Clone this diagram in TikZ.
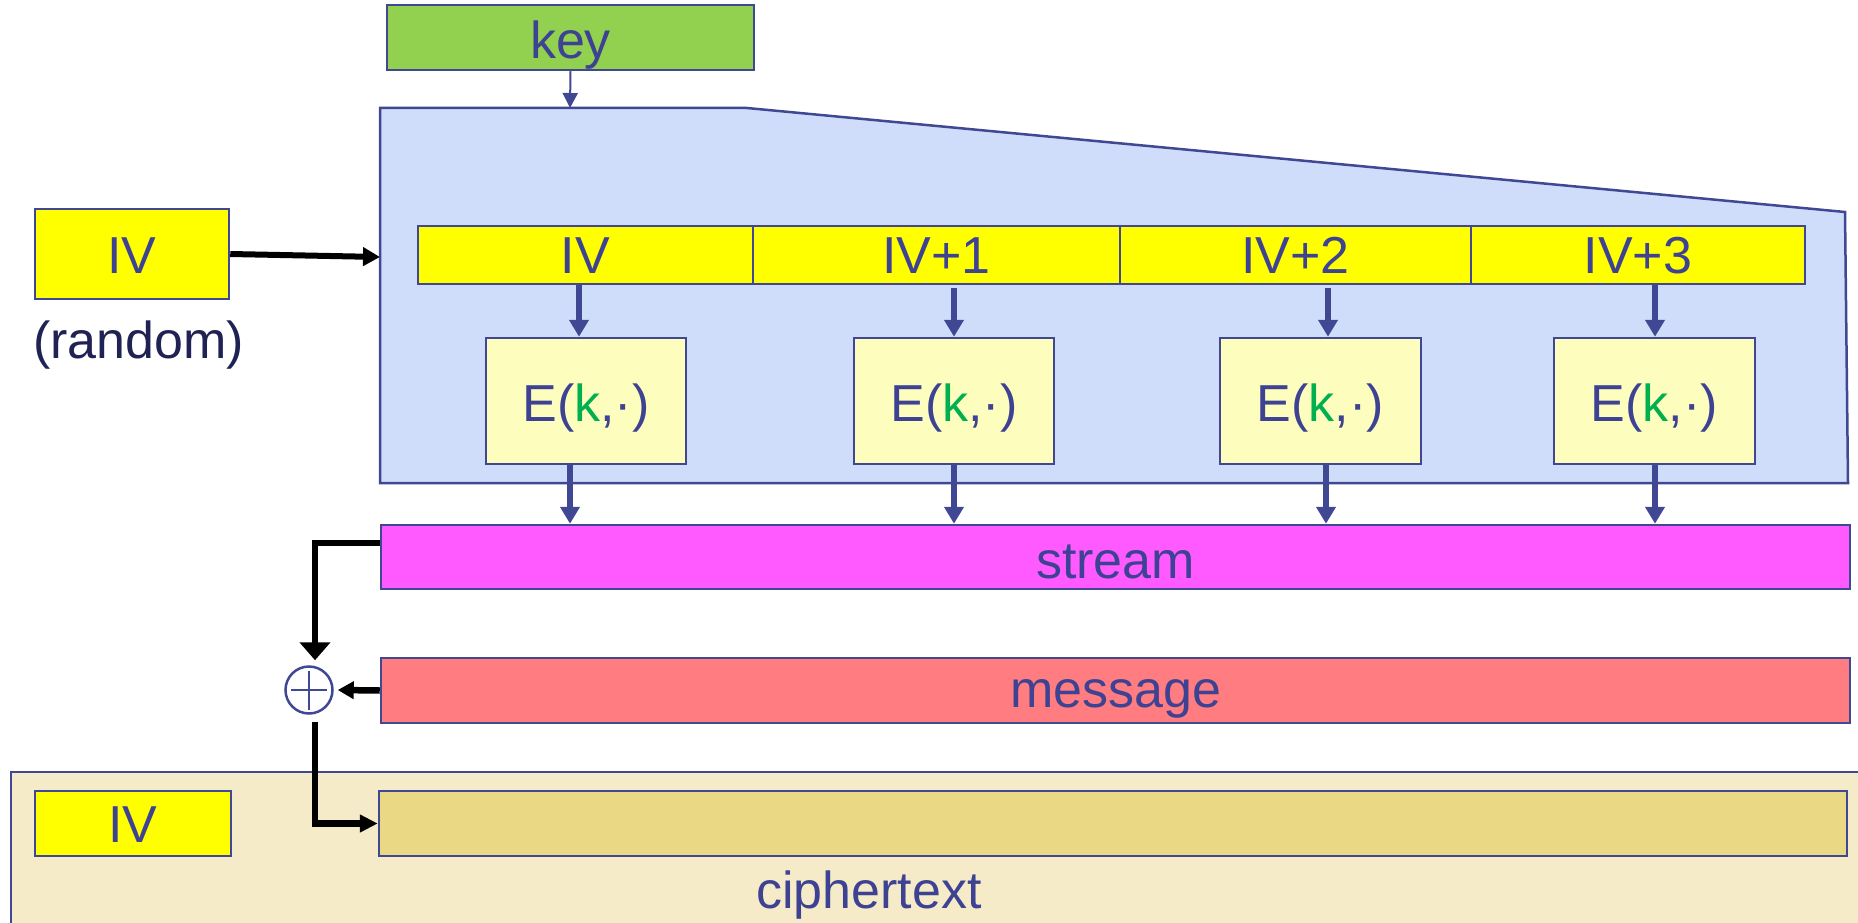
\documentclass[tikz,border=0pt]{standalone}
\usepackage{fontspec}
\setmainfont{Liberation Sans}
\usetikzlibrary{arrows.meta}

\definecolor{outl}{RGB}{64,72,148}
\definecolor{txt}{RGB}{62,66,146}
\definecolor{navy}{RGB}{32,34,84}
\definecolor{keyfill}{RGB}{146,208,80}
\definecolor{ivfill}{RGB}{255,255,0}
\definecolor{encfill}{RGB}{207,220,250}
\definecolor{efill}{RGB}{253,253,190}
\definecolor{streamfill}{RGB}{255,90,255}
\definecolor{msgfill}{RGB}{255,124,128}
\definecolor{cbarfill}{RGB}{235,216,133}
\definecolor{cregfill}{RGB}{246,235,200}
\definecolor{kgreen}{RGB}{0,176,80}

\tikzset{
  box/.style={draw=outl, line width=2.5pt, inner sep=0pt, text=txt, text depth=0pt},
  seg/.style={box, fill=ivfill, line width=2pt, minimum height=58, text height=36pt},
  ebox/.style={box, fill=efill, minimum width=200, minimum height=126, text height=40pt},
  barrow/.style={draw=outl, line width=6pt, -{Triangle[width=19pt,length=17pt]}},
  karrow/.style={draw=black, line width=6.5pt},
}
\newcommand{\Ek}{E(\textcolor{kgreen}{k},·)}

\begin{document}
\begin{tikzpicture}[x=1pt, y=-1pt, font=\fontsize{52}{60}\selectfont]
\useasboundingbox (0,0) rectangle (1858,923);
\clip (0,0) rectangle (1858,923);

% ciphertext region in the background
\draw[outl, line width=2.5pt, fill=cregfill] (11,772) rectangle (1875,940);
\node[text=txt, anchor=base, inner sep=0pt] (clabel) at (869,908) {ciphertext};

% encryption block
\draw[outl, line width=2.5pt, fill=encfill]
  (380,108) -- (747,108) -- (1845,212) -- (1848,483) -- (380,483) -- cycle;
\coordinate (enctop) at (570,108);
\coordinate (encin) at (380,257);

% key and IV inputs
\node[box, fill=keyfill, minimum width=367, minimum height=65, text height=43pt]
  (key) at (570.5,37.5) {key};
\node[box, fill=ivfill, minimum width=194, minimum height=90, text height=38pt]
  (ivsrc) at (132,254) {IV};
\node[text=navy, anchor=base west, inner sep=0pt] (rnd) at (33,358) {(random)};

% counter row
\node[seg, minimum width=335] (r1) at (585.5,255) {IV};
\node[seg, minimum width=367] (r2) at (936.5,255) {IV+1};
\node[seg, minimum width=351] (r3) at (1295.5,255) {IV+2};
\node[seg, minimum width=334] (r4) at (1638,255) {IV+3};

% block cipher applications
\node[ebox] (e1) at (586,401) {\Ek};
\node[ebox] (e2) at (954,401) {\Ek};
\node[ebox, minimum width=201] (e3) at (1320.5,401) {\Ek};
\node[ebox, minimum width=201] (e4) at (1654.5,401) {\Ek};

% stream, message, ciphertext bars
\node[box, fill=streamfill, minimum width=1469, minimum height=64, text height=42pt]
  (stream) at (1115.5,557) {stream};
\node[box, fill=msgfill, minimum width=1469, minimum height=65, text height=33pt]
  (msg) at (1115.5,690.5) {message};
\node[box, fill=ivfill, minimum width=196, minimum height=65, text height=37pt]
  (civ) at (133,823.5) {IV};
\node[box, fill=cbarfill, minimum width=1468, minimum height=65]
  (cbar) at (1113,823.5) {};

% xor
\node[draw=outl, line width=2.5pt, circle, minimum size=47, inner sep=0pt, fill=white]
  (xor) at (309,690) {};
\draw[outl, line width=2.5pt] ([xshift=-18pt]xor.center) -- ([xshift=18pt]xor.center);
\draw[outl, line width=2.5pt] ([yshift=-20pt]xor.center) -- ([yshift=19pt]xor.center);

% key and IV feeding the block
\draw[draw=outl, line width=2pt, -{Triangle[width=15pt,length=15pt]}] (key.south) -- (enctop);
\draw[karrow, line width=6pt, -{Triangle[width=18pt,length=17pt]}] (ivsrc.east) -- (encin);

% counters into the cipher
\draw[barrow] (579,0 |- r1.south) -- (579,0 |- e1.north);
\draw[barrow] (954,288) -- (954,0 |- e2.north);
\draw[barrow] (1328,288) -- (1328,0 |- e3.north);
\draw[barrow] (1655,0 |- r4.south) -- (1655,0 |- e4.north);

% cipher outputs into the stream
\draw[barrow] (570,0 |- e1.south) -- (570,0 |- stream.north);
\draw[barrow] (954,0 |- e2.south) -- (954,0 |- stream.north);
\draw[barrow] (1326,0 |- e3.south) -- (1326,0 |- stream.north);
\draw[barrow] (1655,0 |- e4.south) -- (1655,0 |- stream.north);

% xor wiring
\draw[karrow, -{Triangle[width=30pt,length=18pt]}]
  (stream.west |- 0,543) -| ([xshift=6pt,yshift=5pt]xor.north);
\draw[karrow, -{Triangle[width=17pt,length=16pt]}]
  (msg.west) -- ([xshift=4pt]xor.east);
\draw[karrow, -{Triangle[width=17pt,length=18pt]}]
  ([xshift=6pt,yshift=-7pt]xor.south) |- (cbar.west);
\end{tikzpicture}
\end{document}
